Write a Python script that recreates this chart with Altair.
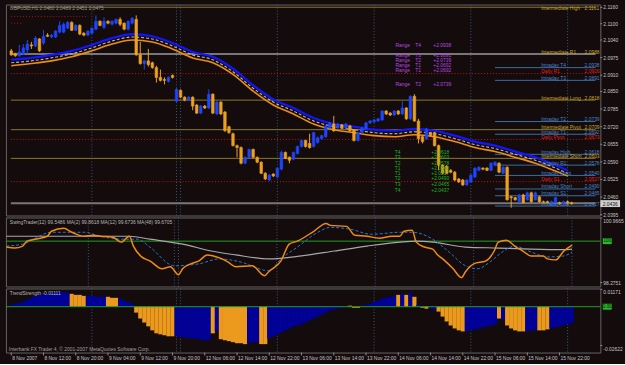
import altair as alt
import pandas as pd

# ---------------- data ----------------
bar_index = list(range(140))
open_ = [
    2.1000, 2.0989, 2.0982, 2.0989, 2.1003, 2.1022, 2.1018, 2.1044, 2.1029, 2.1058,
    2.1051, 2.1051, 2.1069, 2.1069, 2.1084, 2.1105, 2.1076, 2.1094, 2.1065, 2.1058,
    2.1065, 2.1080, 2.1109, 2.1087, 2.1109, 2.1098, 2.1102, 2.1116, 2.1102, 2.1080,
    2.1102, 2.1116, 2.0985, 2.0953, 2.0963, 2.0956, 2.0938, 2.0902, 2.0894, 2.0887,
    2.0909, 2.0814, 2.0854, 2.0829, 2.0818, 2.0829, 2.0800, 2.0770, 2.0796, 2.0789,
    2.0840, 2.0767, 2.0811, 2.0774, 2.0720, 2.0694, 2.0650, 2.0643, 2.0585, 2.0607,
    2.0636, 2.0607, 2.0589, 2.0548, 2.0523, 2.0545, 2.0534, 2.0563, 2.0625, 2.0607,
    2.0600, 2.0621, 2.0647, 2.0669, 2.0658, 2.0647, 2.0661, 2.0676, 2.0683, 2.0716,
    2.0730, 2.0716, 2.0727, 2.0716, 2.0723, 2.0709, 2.0669, 2.0698, 2.0712, 2.0734,
    2.0738, 2.0741, 2.0745, 2.0778, 2.0770, 2.0763, 2.0778, 2.0767, 2.0789, 2.0749,
    2.0832, 2.0741, 2.0683, 2.0676, 2.0698, 2.0698, 2.0650, 2.0578, 2.0574, 2.0559,
    2.0552, 2.0527, 2.0523, 2.0505, 2.0516, 2.0534, 2.0559, 2.0567, 2.0567, 2.0559,
    2.0578, 2.0585, 2.0548, 2.0570, 2.0461, 2.0458, 2.0443, 2.0468, 2.0450, 2.0476,
    2.0450, 2.0461, 2.0443, 2.0443, 2.0432, 2.0439, 2.0439, 2.0436, 2.0443, 2.0439,
]
high = [
    2.1007, 2.0993, 2.1022, 2.1025, 2.1040, 2.1033, 2.1054, 2.1047, 2.1076, 2.1065,
    2.1062, 2.1076, 2.1109, 2.1105, 2.1109, 2.1109, 2.1098, 2.1098, 2.1069, 2.1076,
    2.1087, 2.1131, 2.1113, 2.1124, 2.1113, 2.1113, 2.1120, 2.1124, 2.1105, 2.1113,
    2.1124, 2.1131, 2.1033, 2.0967, 2.1007, 2.0960, 2.0945, 2.0931, 2.0902, 2.0905,
    2.0913, 2.0862, 2.0858, 2.0832, 2.0832, 2.0832, 2.0803, 2.0800, 2.0800, 2.0858,
    2.0843, 2.0814, 2.0814, 2.0778, 2.0723, 2.0698, 2.0654, 2.0647, 2.0610, 2.0639,
    2.0639, 2.0610, 2.0592, 2.0552, 2.0545, 2.0548, 2.0570, 2.0632, 2.0628, 2.0610,
    2.0628, 2.0650, 2.0672, 2.0672, 2.0694, 2.0701, 2.0683, 2.0690, 2.0727, 2.0738,
    2.0760, 2.0734, 2.0730, 2.0734, 2.0727, 2.0712, 2.0701, 2.0720, 2.0738, 2.0745,
    2.0749, 2.0752, 2.0781, 2.0781, 2.0774, 2.0781, 2.0781, 2.0814, 2.0792, 2.0836,
    2.0840, 2.0749, 2.0687, 2.0716, 2.0701, 2.0701, 2.0654, 2.0581, 2.0578, 2.0563,
    2.0556, 2.0530, 2.0527, 2.0527, 2.0545, 2.0570, 2.0574, 2.0570, 2.0570, 2.0589,
    2.0592, 2.0589, 2.0574, 2.0574, 2.0465, 2.0461, 2.0472, 2.0472, 2.0480, 2.0480,
    2.0480, 2.0465, 2.0447, 2.0447, 2.0447, 2.0461, 2.0443, 2.0447, 2.0447, 2.0443,
]
low = [
    2.0982, 2.0978, 2.0978, 2.0985, 2.0989, 2.1007, 2.1014, 2.0996, 2.1022, 2.1051,
    2.1047, 2.1047, 2.1065, 2.1065, 2.1080, 2.1073, 2.1073, 2.1058, 2.1054, 2.1054,
    2.1062, 2.1076, 2.1091, 2.1080, 2.1098, 2.1094, 2.1098, 2.1091, 2.1076, 2.1076,
    2.1098, 2.0982, 2.0949, 2.0931, 2.0942, 2.0934, 2.0883, 2.0887, 2.0876, 2.0883,
    2.0898, 2.0811, 2.0825, 2.0814, 2.0814, 2.0781, 2.0767, 2.0767, 2.0785, 2.0785,
    2.0767, 2.0763, 2.0763, 2.0701, 2.0694, 2.0647, 2.0607, 2.0581, 2.0581, 2.0603,
    2.0603, 2.0585, 2.0545, 2.0523, 2.0519, 2.0534, 2.0530, 2.0559, 2.0600, 2.0585,
    2.0596, 2.0618, 2.0643, 2.0643, 2.0639, 2.0643, 2.0658, 2.0672, 2.0679, 2.0712,
    2.0701, 2.0712, 2.0712, 2.0712, 2.0701, 2.0665, 2.0665, 2.0694, 2.0709, 2.0730,
    2.0734, 2.0738, 2.0741, 2.0763, 2.0760, 2.0760, 2.0763, 2.0763, 2.0745, 2.0745,
    2.0738, 2.0658, 2.0658, 2.0672, 2.0683, 2.0647, 2.0559, 2.0545, 2.0545, 2.0548,
    2.0519, 2.0512, 2.0501, 2.0501, 2.0512, 2.0530, 2.0556, 2.0559, 2.0556, 2.0556,
    2.0574, 2.0548, 2.0545, 2.0447, 2.0421, 2.0447, 2.0439, 2.0436, 2.0447, 2.0439,
    2.0447, 2.0439, 2.0436, 2.0436, 2.0429, 2.0436, 2.0432, 2.0432, 2.0432, 2.0432,
]
close = [
    2.0985, 2.0982, 2.0996, 2.1011, 2.1025, 2.1018, 2.1047, 2.1000, 2.1054, 2.1054,
    2.1058, 2.1073, 2.1094, 2.1098, 2.1105, 2.1076, 2.1094, 2.1062, 2.1058, 2.1073,
    2.1084, 2.1109, 2.1094, 2.1109, 2.1102, 2.1109, 2.1116, 2.1098, 2.1080, 2.1109,
    2.1120, 2.0985, 2.0953, 2.0963, 2.0949, 2.0938, 2.0902, 2.0891, 2.0891, 2.0902,
    2.0902, 2.0858, 2.0829, 2.0818, 2.0829, 2.0796, 2.0770, 2.0796, 2.0789, 2.0840,
    2.0770, 2.0811, 2.0767, 2.0705, 2.0698, 2.0650, 2.0643, 2.0585, 2.0607, 2.0636,
    2.0607, 2.0589, 2.0548, 2.0527, 2.0541, 2.0538, 2.0567, 2.0625, 2.0603, 2.0596,
    2.0625, 2.0647, 2.0669, 2.0647, 2.0643, 2.0698, 2.0679, 2.0687, 2.0723, 2.0734,
    2.0705, 2.0730, 2.0716, 2.0730, 2.0705, 2.0669, 2.0698, 2.0716, 2.0734, 2.0741,
    2.0745, 2.0749, 2.0778, 2.0767, 2.0763, 2.0778, 2.0767, 2.0789, 2.0749, 2.0832,
    2.0741, 2.0676, 2.0665, 2.0712, 2.0687, 2.0650, 2.0578, 2.0548, 2.0548, 2.0552,
    2.0523, 2.0516, 2.0505, 2.0523, 2.0541, 2.0567, 2.0570, 2.0563, 2.0559, 2.0585,
    2.0589, 2.0552, 2.0570, 2.0450, 2.0458, 2.0450, 2.0468, 2.0439, 2.0476, 2.0443,
    2.0476, 2.0443, 2.0439, 2.0439, 2.0443, 2.0458, 2.0436, 2.0443, 2.0439, 2.0436,
]

ma_bars = [0, 5, 10, 15, 20, 25, 30, 35, 40, 45, 50, 55, 60, 65, 70, 75, 80, 85,
           90, 95, 100, 105, 110, 115, 120, 125, 130, 135, 138]
ma_blue = [2.0967, 2.0974, 2.0985, 2.1000, 2.1022, 2.1047, 2.1062, 2.1054, 2.1029,
           2.0996, 2.0978, 2.0934, 2.0873, 2.0821, 2.0789, 2.0752, 2.0730, 2.0720,
           2.0709, 2.0705, 2.0712, 2.0705, 2.0687, 2.0665, 2.0650, 2.0628, 2.0607,
           2.0578, 2.0559]
ma_gray = [2.0956, 2.0963, 2.0974, 2.0989, 2.1011, 2.1036, 2.1051, 2.1044, 2.1018,
           2.0985, 2.0967, 2.0923, 2.0862, 2.0811, 2.0778, 2.0741, 2.0720, 2.0709,
           2.0698, 2.0694, 2.0701, 2.0694, 2.0676, 2.0654, 2.0639, 2.0618, 2.0596,
           2.0567, 2.0548]
ma_orange = [2.0945, 2.0953, 2.0963, 2.0978, 2.1000, 2.1025, 2.1040, 2.1033, 2.1007,
             2.0974, 2.0956, 2.0913, 2.0851, 2.0800, 2.0767, 2.0730, 2.0709, 2.0698,
             2.0687, 2.0683, 2.0690, 2.0683, 2.0665, 2.0643, 2.0628, 2.0607, 2.0585,
             2.0556, 2.0538]

main_ticks = [2.1160, 2.1100, 2.1040, 2.0975, 2.0910, 2.0850, 2.0785, 2.0720,
              2.0655, 2.0590, 2.0525, 2.0460, 2.0395]

level_names = ["Intermediate High", "Intermediate R1", "Intraday  T4", "Daily  R1",
               "Intraday  T3", "Intermediate Long", "Intraday  T2", "Intermediate Pivot",
               "Intraday  T1", "Daily Pivot", "Intraday High", "Intermediate Short",
               "Intraday  R1", "Intraday Pivot", "Daily  S1", "Intraday Short",
               "Intraday  S1", "", "Intraday Low"]
level_values = [2.1161, 2.0988, 2.0938, 2.0916, 2.0891, 2.0818, 2.0739, 2.0709,
                2.0692, 2.0673, 2.0618, 2.0603, 2.0578, 2.0540, 2.0517, 2.0490,
                2.0465, 2.0437, 2.0427]

# previous-session red dotted stubs (top left)
prev_level_values = [2.1127, 2.1102]
prev_level_start = [0, 0]
prev_level_end = [19, 3]

osc_orange_bars = [0, 2, 4, 5, 7, 10, 11, 14, 16, 19, 21, 23, 26, 28, 30, 31, 33, 35, 38, 40,
                   42, 43, 45, 47, 49, 52, 54, 56, 60, 63, 64, 67, 69, 71, 75, 78, 79, 83, 85, 88,
                   91, 94, 96, 97, 99, 100, 102, 104, 105, 107, 109, 111, 112, 114, 117, 119,
                   120, 122, 124, 126, 128, 131, 132, 134, 136, 138]
osc_orange_vals = [99.754, 99.713, 99.795, 100.000, 100.082, 100.205, 100.411, 100.534, 100.370, 100.205,
                   100.246, 100.205, 100.164, 99.959, 100.205, 99.795, 99.343, 99.179, 98.850, 98.932,
                   98.604, 98.850, 99.055, 99.179, 99.425, 99.302, 99.138, 98.932, 98.973, 98.563,
                   98.727, 99.179, 99.877, 100.000, 100.411, 100.739, 100.657, 100.616, 100.246, 100.205,
                   100.123, 100.205, 100.205, 100.411, 100.452, 99.959, 99.754, 99.671, 99.466, 99.179,
                   98.850, 98.480, 98.727, 99.055, 99.179, 99.589, 99.959, 100.041, 99.795, 99.589,
                   99.384, 99.384, 99.261, 99.220, 99.589, 99.836]
osc_blue_bars = [0, 4, 11, 19, 23, 28, 32, 35, 41, 47, 52, 57, 64, 67, 71, 76, 79, 84, 89, 96,
                 99, 104, 108, 112, 115, 118, 121, 124, 128, 132, 136, 138]
osc_blue_vals = [99.795, 99.877, 100.370, 100.370, 100.205, 100.082, 100.082, 99.754, 98.973, 99.055,
                 99.261, 99.138, 98.768, 99.261, 99.754, 100.370, 100.575, 100.493, 100.287, 100.370,
                 100.370, 100.082, 99.548, 98.973, 98.850, 99.138, 99.548, 99.795, 99.548, 99.343,
                 99.384, 99.548]
osc_gray_bars = [0, 10, 20, 30, 35, 43, 50, 56, 64, 72, 80, 88, 96, 100, 104, 112, 120, 128, 136, 138]
osc_gray_vals = [100.205, 100.205, 100.205, 100.205, 100.082, 99.877, 99.589, 99.425, 99.261, 99.384,
                 99.589, 99.795, 99.959, 100.000, 99.959, 99.754, 99.713, 99.671, 99.650, 99.671]
osc_ticks = [100.9665, 98.2751]

hist_vals = [
    0.0013, 0.0020, 0.0027, 0.0033, 0.0047, 0.0060, 0.0073, 0.0080, 0.0087, 0.0093,
    0.0093, 0.0100, 0.0100, 0.0100, 0.0093, 0.0087, 0.0080, 0.0080, 0.0073, 0.0073,
    0.0073, 0.0067, 0.0067, 0.0067, 0.0067, 0.0060, 0.0060, 0.0053, 0.0040, 0.0033,
    0.0020, -0.0040, -0.0080, -0.0107, -0.0133, -0.0160, -0.0180, -0.0187, -0.0193, -0.0200,
    -0.0200, -0.0200, -0.0207, -0.0207, -0.0213, -0.0213, -0.0220, -0.0220, -0.0227, -0.0227,
    -0.0180, -0.0167, -0.0220, -0.0227, -0.0233, -0.0240, -0.0247, -0.0247, -0.0253, -0.0247,
    -0.0240, -0.0240, -0.0253, -0.0253, -0.0213, -0.0200, -0.0187, -0.0173, -0.0160, -0.0147,
    -0.0133, -0.0127, -0.0120, -0.0107, -0.0093, -0.0080, -0.0067, -0.0053, -0.0040, -0.0027,
    -0.0020, -0.0013, -0.0007, -0.0007, 0.0007, -0.0007, -0.0007, 0.0007, 0.0013, 0.0020,
    0.0033, 0.0040, 0.0053, 0.0060, 0.0067, 0.0073, 0.0080, 0.0087, 0.0080, 0.0093,
    0.0067, 0.0013, -0.0007, -0.0013, -0.0013, -0.0020, -0.0033, -0.0067, -0.0100, -0.0127,
    -0.0147, -0.0160, -0.0167, -0.0167, -0.0160, -0.0153, -0.0147, -0.0140, -0.0133, -0.0127,
    -0.0120, -0.0080, -0.0087, -0.0127, -0.0147, -0.0160, -0.0167, -0.0167, -0.0167, -0.0160,
    -0.0160, -0.0160, -0.0160, -0.0153, -0.0147, -0.0140, -0.0133, -0.0127, -0.0120, -0.0111,
]
hist_state = ("BBBBBBBBBB" "BBBBBOOOOB" "BBBBOOOBBB" "BOOOOOOOOO" "OBBBBBBBBB"
              "OBOOOOOOOB" "BBOOBBBBBB" "BBBBBBBBBB" "BBBBOOOBBB" "BBBBBBOBOB"
              "OBOOBBOOOO" "OOOBBBBBBB" "BOBOOOOOBB" "BOOOBBBBBB")
hist_ticks = [0.01171, -0.02622]

x_tick_bars = [0, 8, 16, 24, 32, 40, 48, 56, 64, 72, 80, 88, 96, 104, 112, 120, 128, 136]
x_tick_labels = ["8 Nov 2007", "8 Nov 12:00", "8 Nov 20:00", "9 Nov 04:00", "9 Nov 12:00",
                 "9 Nov 20:00", "12 Nov 06:00", "12 Nov 14:00", "12 Nov 22:00", "13 Nov 06:00",
                 "13 Nov 14:00", "13 Nov 22:00", "14 Nov 06:00", "14 Nov 14:00", "14 Nov 22:00",
                 "15 Nov 06:00", "15 Nov 14:00", "15 Nov 22:00"]
day_breaks = [20, 41, 42, 66, 90, 114, 138]

# ---------------- style ----------------
BG = "#140c0c"
BULL = "#1f45ff"
BEAR = "#eda21f"
FONT = "Liberation Sans"
LBL = "#c4c4c4"
W = 603
H_MAIN, H_OSC, H_HIST = 214, 70, 65
xs = alt.Scale(domain=[-0.1, 144.9], nice=False, zero=False)


def xq(field):
    return alt.X(f"{field}:Q", scale=xs, axis=None)


def right_labels(values, fmt, scale, dys=None):
    """Price-scale labels on the right edge (MetaTrader style)."""
    layers = []
    df = pd.DataFrame({"v": values, "t": [format(v, fmt) for v in values]})
    layers.append(alt.Chart(df).mark_rule(color="#8a8a8a", strokeWidth=1).encode(
        x=alt.value(W), x2=alt.value(W + 2), y=alt.Y("v:Q", scale=scale, axis=None)))
    if dys is None:
        dys = [0] * len(values)
    for k in range(len(values)):
        layers.append(alt.Chart(df.iloc[[k]]).mark_text(
            align="left", baseline="middle", fontSize=5, font=FONT, color=LBL,
            dy=dys[k]).encode(
            x=alt.value(W + 3), y=alt.Y("v:Q", scale=scale, axis=None), text="t:N"))
    return layers


seps = alt.Chart(pd.DataFrame({"i": day_breaks})).mark_rule(
    color="#3a5a7c", strokeDash=[1, 2], strokeWidth=1).encode(x=xq("i"))

# ---------------- main panel ----------------
ys_main = alt.Scale(domain=[2.0392, 2.11709], nice=False, zero=False)
cd = pd.DataFrame({"i": bar_index, "o": open_, "h": high, "l": low, "c": close})
cd["dir"] = ["up" if c >= o else "dn" for o, c in zip(open_, close)]
dir_scale = alt.Scale(domain=["up", "dn"], range=[BULL, BEAR])

wicks = alt.Chart(cd).mark_rule(strokeWidth=1).encode(
    x=xq("i"),
    y=alt.Y("l:Q", scale=ys_main, axis=None),
    y2="h:Q",
    color=alt.Color("dir:N", scale=dir_scale, legend=None))
bodies = alt.Chart(cd).mark_bar(size=2.6, strokeWidth=0.6).encode(
    x=xq("i"),
    y=alt.Y("o:Q", scale=ys_main, axis=None),
    y2="c:Q",
    color=alt.Color("dir:N", scale=dir_scale, legend=None),
    stroke=alt.Stroke("dir:N", scale=dir_scale, legend=None))


def ma_line(vals, color, width, dash=None):
    kw = dict(color=color, strokeWidth=width, interpolate="monotone")
    if dash:
        kw["strokeDash"] = dash
    return alt.Chart(pd.DataFrame({"i": ma_bars, "v": vals})).mark_line(**kw).encode(
        x=xq("i"), y=alt.Y("v:Q", scale=ys_main, axis=None))


ma_layers = [ma_line(ma_orange, "#f08c10", 1.6),
             ma_line(ma_gray, "#b8b8b8", 1.1, [3, 2]),
             ma_line(ma_blue, "#1414ff", 2.2)]

lv = pd.DataFrame({"name": level_names, "v": level_values})


def lvl_kind(n):
    if n.startswith("Daily"):
        return "daily"
    if n.startswith("Intraday"):
        return "intraday"
    if n == "Intermediate R1" or n == "":
        return "inter_gray"
    return "inter"


lv["kind"] = [lvl_kind(n) for n in level_names]
lv["x0"] = [120 if k == "intraday" else -0.1 for k in lv["kind"]]
lv["x1"] = 144.9
lv["vt"] = [f"{v:.4f}" if n else "" for n, v in zip(level_names, level_values)]
lv["top"] = [v > 2.113 for v in level_values]

line_styles = {
    "inter": dict(color="#8c7a2e", strokeWidth=1),
    "inter_gray": dict(color="#777777", strokeWidth=2),
    "daily": dict(color="#c81414", strokeWidth=1, strokeDash=[1, 2]),
    "intraday": dict(color="#3b6ea8", strokeWidth=1),
}
label_colors = {"inter": "#c9a430", "inter_gray": "#c9a430", "daily": "#e02020",
                "intraday": "#4a82c8"}

level_layers = []
label_layers = []
for k, st in line_styles.items():
    sub = lv[lv["kind"] == k]
    level_layers.append(alt.Chart(sub).mark_rule(**st).encode(
        x=xq("x0"), x2="x1:Q", y=alt.Y("v:Q", scale=ys_main, axis=None)))
    for is_top, dy in ((False, -2.5), (True, 0.5)):
        part = sub[sub["top"] == is_top]
        if len(part) == 0:
            continue
        for col, px in (("name", 543), ("vt", 587)):
            label_layers.append(alt.Chart(part).mark_text(
                align="left", baseline="middle", dy=dy, fontSize=5, font=FONT,
                color=label_colors[k]).encode(
                x=alt.value(px), y=alt.Y("v:Q", scale=ys_main, axis=None), text=f"{col}:N"))

prev_df = pd.DataFrame({"v": prev_level_values, "x0": prev_level_start, "x1": prev_level_end})
prev_layer = alt.Chart(prev_df).mark_rule(color="#b01010", strokeWidth=1, strokeDash=[1, 2]).encode(
    x=xq("x0"), x2="x1:Q", y=alt.Y("v:Q", scale=ys_main, axis=None))

# magenta and green pivot text clusters
mag_rows = pd.DataFrame({
    "p": [2.1022, 2.0985, 2.0967, 2.0949, 2.0931, 2.0876],
    "a": ["Range", "Range", "Range", "Range", "Range", "Range"],
    "b": ["T4", "T3", "T2", "T1", "T1", "T2"],
    "c": ["+2.0938", "+2.0891", "+2.0739", "+2.0692", "+2.0692", "+2.0739"],
})
mag_layers = []
for col, xb in (("a", 95.3), ("b", 100.2), ("c", 104.7)):
    mag_layers.append(alt.Chart(mag_rows).mark_text(
        align="left", baseline="middle", fontSize=5, font=FONT, color="#b448e0").encode(
        x=alt.X("xx:Q", scale=xs, axis=None), y=alt.Y("p:Q", scale=ys_main, axis=None),
        text=f"{col}:N").transform_calculate(xx=str(xb)))
grn_rows = pd.DataFrame({
    "p": [2.0625, 2.0607, 2.0585, 2.0567, 2.0548, 2.0530, 2.0508, 2.0487],
    "a": ["T4", "T3", "T2", "T1", "T1", "T2", "T3", "T4"],
    "c": ["+2.0618", "+2.0603", "+2.0578", "+2.0540", "+2.0517", "+2.0490", "+2.0465", "+2.0437"],
})
grn_layers = []
for col, xb in (("a", 95.1), ("c", 104.2)):
    grn_layers.append(alt.Chart(grn_rows).mark_text(
        align="left", baseline="middle", fontSize=5, font=FONT, color="#22b522").encode(
        x=alt.X("xx:Q", scale=xs, axis=None), y=alt.Y("p:Q", scale=ys_main, axis=None),
        text=f"{col}:N").transform_calculate(xx=str(xb)))

header = alt.Chart(pd.DataFrame({"t": ["GBPUSD,H1  2.0480 2.0489 2.0451 2.0475"]})).mark_text(
    align="left", baseline="top", fontSize=5, font=FONT, color="#9a9a9a").encode(
    x=alt.value(4), y=alt.value(1.5), text="t:N")

last_df = pd.DataFrame({"v": [close[-1]], "t": [f"{close[-1]:.4f}"]})
last_box = alt.Chart(last_df).mark_point(
    shape="M-2,-0.7H2V0.7H-2Z", size=100, filled=True, color="#d0d0d0", opacity=1).encode(
    x=alt.value(613), y=alt.Y("v:Q", scale=ys_main, axis=None))
last_txt = alt.Chart(last_df).mark_text(
    fontSize=5, font=FONT, color="#101010", align="center", baseline="middle").encode(
    x=alt.value(613), y=alt.Y("v:Q", scale=ys_main, axis=None), text="t:N")

main = alt.layer(seps, *level_layers, prev_layer, *ma_layers, wicks, bodies, *label_layers,
                 *mag_layers, *grn_layers, header,
                 *right_labels(main_ticks, ".4f", ys_main),
                 last_box, last_txt).properties(width=W, height=H_MAIN)

# ---------------- oscillator panel ----------------
ys_osc = alt.Scale(domain=[98.1108, 100.9857], nice=False, zero=False)
zero_osc = pd.DataFrame({"v": [100.0], "t": ["100"]})
osc_green = alt.Chart(zero_osc).mark_rule(color="#22a022", strokeWidth=1).encode(
    y=alt.Y("v:Q", scale=ys_osc, axis=None))
osc_gray = alt.Chart(pd.DataFrame({"i": osc_gray_bars, "v": osc_gray_vals})).mark_line(
    color="#a8a8a8", strokeWidth=1.2, interpolate="monotone").encode(
    x=xq("i"), y=alt.Y("v:Q", scale=ys_osc, axis=None))
osc_blue = alt.Chart(pd.DataFrame({"i": osc_blue_bars, "v": osc_blue_vals})).mark_line(
    color="#2a78d0", strokeWidth=1, strokeDash=[3, 2], interpolate="monotone").encode(
    x=xq("i"), y=alt.Y("v:Q", scale=ys_osc, axis=None))
osc_orange = alt.Chart(pd.DataFrame({"i": osc_orange_bars, "v": osc_orange_vals})).mark_line(
    color="#f08c10", strokeWidth=1.5, interpolate="monotone").encode(
    x=xq("i"), y=alt.Y("v:Q", scale=ys_osc, axis=None))
osc_title = alt.Chart(pd.DataFrame({"t": [
    "SwingTrader(12) 99.5486     MA(2) 99.8618     MA(12) 99.6736     MA(48) 99.6705"]})).mark_text(
    align="left", baseline="top", fontSize=5, font=FONT, color="#b8b8b8").encode(
    x=alt.value(4), y=alt.value(3), text="t:N")
osc_box = alt.Chart(zero_osc).mark_point(
    shape="M-1.8,-1.2H1.8V1.2H-1.8Z", size=25, filled=True, color="#22c022", opacity=1).encode(
    x=alt.value(610), y=alt.Y("v:Q", scale=ys_osc, axis=None))
osc_box_t = alt.Chart(zero_osc).mark_text(fontSize=4.5, font=FONT, color="#0a0a0a").encode(
    x=alt.value(610), y=alt.Y("v:Q", scale=ys_osc, axis=None), text="t:N")
osc = alt.layer(seps, osc_green, osc_gray, osc_blue, osc_orange, osc_title,
                *right_labels(osc_ticks, ".4f", ys_osc, dys=[3.5, 0]),
                osc_box, osc_box_t).properties(width=W, height=H_OSC)

# ---------------- histogram panel ----------------
ys_hist = alt.Scale(domain=[-0.0310, 0.01233], nice=False, zero=False)
hd = pd.DataFrame({"i": bar_index, "v": hist_vals, "st": list(hist_state)})
hbars = alt.Chart(hd).mark_bar(size=4.2).encode(
    x=xq("i"),
    y=alt.Y("v:Q", scale=ys_hist, axis=None),
    y2=alt.datum(0),
    color=alt.Color("st:N", scale=alt.Scale(domain=["B", "O"], range=["#00009a", "#ec9a1e"]),
                    legend=None))
zero_h = pd.DataFrame({"v": [0.0], "t": ["0.00"]})
h_green = alt.Chart(zero_h).mark_rule(color="#22a022", strokeWidth=1).encode(
    y=alt.Y("v:Q", scale=ys_hist, axis=None))
h_title = alt.Chart(pd.DataFrame({"t": ["TrendStrength -0.01111"]})).mark_text(
    align="left", baseline="top", fontSize=5, font=FONT, color="#b8b8b8").encode(
    x=alt.value(4), y=alt.value(3), text="t:N")
h_copy = alt.Chart(pd.DataFrame({"t": [
    "Interbank FX Trader 4, \u00a9 2001-2007 MetaQuotes Software Corp."]})).mark_text(
    align="left", baseline="bottom", fontSize=5, font=FONT, color="#a0a0a0").encode(
    x=alt.value(3), y=alt.value(H_HIST - 1), text="t:N")
h_box = alt.Chart(zero_h).mark_point(
    shape="M-1.8,-1.2H1.8V1.2H-1.8Z", size=25, filled=True, color="#22c022", opacity=1).encode(
    x=alt.value(610), y=alt.Y("v:Q", scale=ys_hist, axis=None))
h_box_t = alt.Chart(zero_h).mark_text(fontSize=4.5, font=FONT, color="#0a0a0a").encode(
    x=alt.value(610), y=alt.Y("v:Q", scale=ys_hist, axis=None), text="t:N")

xl = pd.DataFrame({"i": x_tick_bars, "t": x_tick_labels})
x_ticks = alt.Chart(xl).mark_rule(color="#8a8a8a", strokeWidth=1).encode(
    x=xq("i"), y=alt.value(H_HIST), y2=alt.value(H_HIST + 3))
x_text = alt.Chart(xl).mark_text(align="left", baseline="top", fontSize=5, font=FONT,
                                 color=LBL, dx=1).encode(
    x=xq("i"), y=alt.value(H_HIST + 3.5), text="t:N")

hist = alt.layer(seps, hbars, h_green, h_title, h_copy,
                 *right_labels(hist_ticks, ".5f", ys_hist, dys=[3, 4]),
                 h_box, h_box_t, x_ticks, x_text).properties(width=W, height=H_HIST)

chart = alt.vconcat(main, osc, hist, spacing=2, bounds="flush").resolve_scale(
    color="independent", stroke="independent"
).properties(
    padding={"left": 2, "top": 1, "right": 0, "bottom": 0},
    background=BG,
).configure_view(stroke="#666666", strokeWidth=1)

chart.save("out.html", embed_options={"renderer": "svg", "actions": False})
